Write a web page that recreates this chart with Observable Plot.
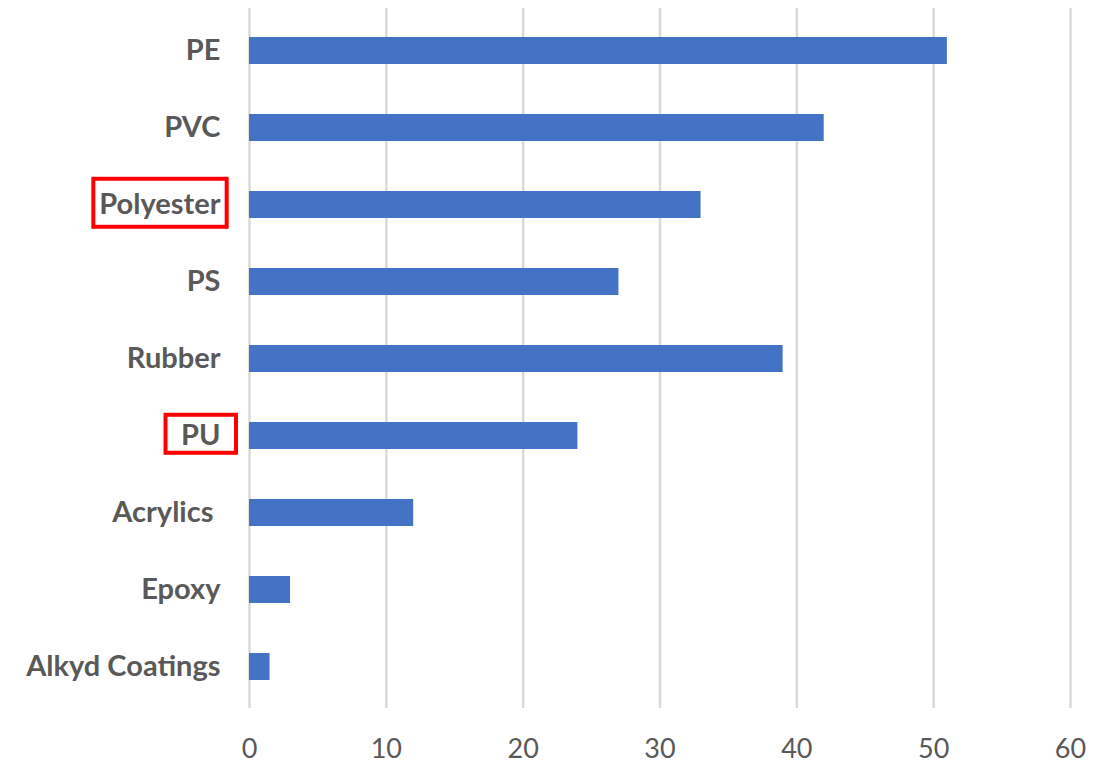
<!DOCTYPE html>
<html>
<head>
<meta charset="utf-8">
<script src="https://cdn.jsdelivr.net/npm/d3@7"></script>
<script src="https://cdn.jsdelivr.net/npm/@observablehq/plot@0.6"></script>
<style>
  html, body { margin: 0; padding: 0; background: #fff; }
</style>
</head>
<body>
<div id="chart"></div>
<script>
const categories = ["PE", "PVC", "Polyester", "PS", "Rubber", "PU", "Acrylics ", "Epoxy", "Alkyd Coatings"];
const values = [51, 42, 33, 27, 39, 24, 12, 3, 1.5];
const xTicks = [0, 10, 20, 30, 40, 50, 60];
const highlighted = ["Polyester", "PU"];
const highlightPadX = [6, 15.5];
const highlightPadY = [6.5, 1.5];

const data = categories.map((c, i) => ({category: c, value: values[i]}));

const chart = Plot.plot({
  width: 1115,
  height: 763,
  marginLeft: 249,
  marginRight: 45,
  marginTop: 8,
  marginBottom: 55,
  style: {fontFamily: "Lato, 'Open Sans', sans-serif", fontSize: "27px", color: "#595959", background: "#fff"},
  x: {domain: [0, 60], ticks: xTicks},
  y: {domain: categories, paddingInner: 0.65, paddingOuter: 0.325},
  marks: [
    Plot.gridX(xTicks, {stroke: "#d9d9d9", strokeWidth: 2.5, strokeOpacity: 1}),
    Plot.barX(data, {x: "value", y: "category", fill: "#4472c4"}),
    Plot.axisX({ticks: xTicks, tickSize: 0, tickPadding: 30, label: null, fontSize: 27, fill: "#595959"}),
    Plot.axisY({tickSize: 0, tickPadding: 29, label: null, fontWeight: "bold", fontSize: 29, fill: "#595959"})
  ]
});
document.getElementById("chart").appendChild(chart);

// Red highlight boxes around selected category labels, sized from the rendered text
const svg = d3.select(chart);
svg.selectAll("g[aria-label='y-axis tick label'] text").each(function() {
  const t = d3.select(this).text().trim();
  const k = highlighted.indexOf(t);
  if (k >= 0) {
    const bb = this.getBBox();
    const px = highlightPadX[k], py = highlightPadY[k];
    const tr = this.getAttribute("transform") || "";
    d3.select(this.parentNode).append("rect")
      .attr("transform", tr)
      .attr("x", bb.x - px)
      .attr("y", bb.y - py)
      .attr("width", bb.width + 2 * px)
      .attr("height", bb.height + 2 * py)
      .attr("fill", "none")
      .attr("stroke", "#ff0000")
      .attr("stroke-width", 4);
  }
});
</script>
</body>
</html>
